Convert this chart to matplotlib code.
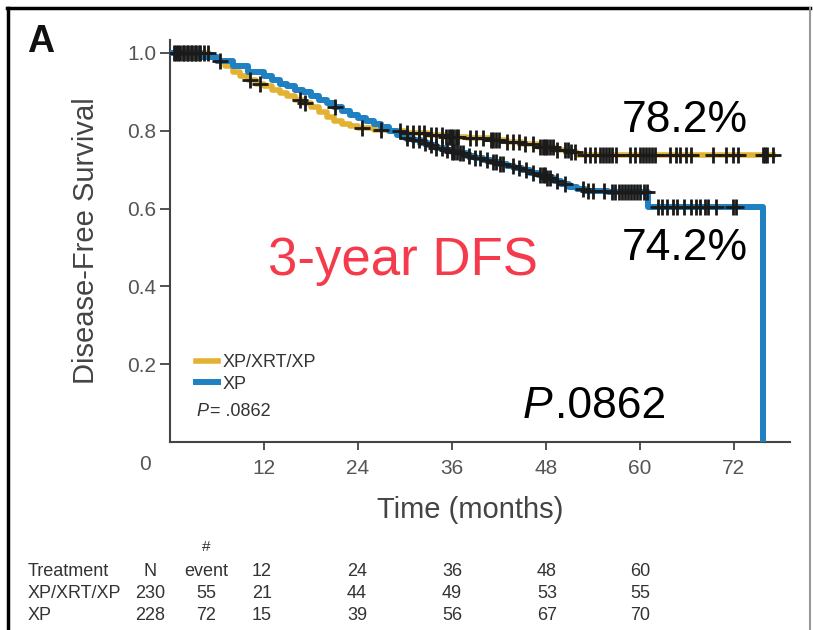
import matplotlib
matplotlib.use("Agg")
import matplotlib.pyplot as plt
from matplotlib.lines import Line2D

# Kaplan-Meier step values (months, survival)
arm_names = ["XP/XRT/XP", "XP"]
arm_colors = ["#E3B232", "#1F80C2"]

xrt_times = [0, 5, 6, 7, 8, 9, 10, 11, 12, 13, 14, 15, 16, 17, 18, 19, 20, 21, 22, 23, 24,
             26, 28, 30, 33, 35, 38, 41, 43, 45, 47, 49, 51, 52, 77]
xrt_surv = [1.0, 0.99, 0.98, 0.965, 0.95, 0.94, 0.93, 0.92, 0.915, 0.905, 0.897, 0.89, 0.88,
            0.87, 0.86, 0.848, 0.836, 0.826, 0.818, 0.812, 0.808, 0.803, 0.80, 0.795, 0.79,
            0.785, 0.78, 0.775, 0.77, 0.765, 0.758, 0.75, 0.744, 0.738, 0.738]

xp_times = [0, 4, 6, 8, 10, 12, 13, 14, 15, 16, 17, 18, 19, 20, 21, 22, 23, 24, 25, 26, 27,
            28, 29, 30, 31, 32, 33, 34, 35, 36, 37, 38, 39, 40, 41, 42, 43, 44, 45, 46, 47,
            48, 49, 50, 51, 52, 53, 56, 61, 75.8]
xp_surv = [1.0, 0.99, 0.98, 0.965, 0.95, 0.94, 0.93, 0.92, 0.915, 0.905, 0.90, 0.89, 0.88,
           0.87, 0.86, 0.85, 0.84, 0.832, 0.825, 0.818, 0.81, 0.80, 0.79, 0.782, 0.775, 0.768,
           0.762, 0.756, 0.75, 0.745, 0.742, 0.735, 0.73, 0.725, 0.72, 0.715, 0.71, 0.705,
           0.70, 0.692, 0.685, 0.678, 0.67, 0.663, 0.656, 0.65, 0.645, 0.642, 0.605, 0.0]

# censored observations (months)
xrt_censor = [0.8, 1.3, 1.8, 2.3, 2.8, 3.3, 3.8, 4.3, 4.8, 10.2, 11.5, 16.6, 17.2, 24.5, 27.0,
              29.4, 30.3, 31.0, 31.8, 32.5, 33.3, 34.0, 34.8, 35.3, 35.6, 35.9, 36.2, 36.5,
              36.8, 38.3, 39.1, 40.0, 41.0, 41.3, 41.6, 42.0, 43.0, 43.8, 44.6, 45.4, 46.4,
              47.3, 47.6, 47.9, 48.2, 48.5, 48.9, 49.4, 50.4, 50.8, 51.2, 51.7, 53.0, 53.6,
              54.3, 54.9, 55.3, 55.7, 56.1, 56.5, 57.0, 58.7, 59.4, 60.0, 60.4, 60.8, 61.2,
              61.6, 62.0, 63.9, 64.6, 65.2, 65.9, 66.6, 69.3, 71.0, 71.9, 72.5, 75.7, 76.0,
              76.3, 77.0]
xp_censor = [0.5, 1.0, 1.6, 2.2, 2.7, 3.2, 3.7, 6.4, 21.1, 30.3, 31.0, 31.8, 32.6, 33.3, 34.0,
             34.7, 35.4, 36.0, 36.3, 36.6, 37.0, 37.4, 38.2, 39.0, 39.6, 40.5, 41.3, 41.7,
             42.1, 42.5, 43.8, 44.6, 45.5, 46.4, 47.3, 47.6, 47.9, 48.2, 48.5, 49.4, 50.4,
             52.7, 53.4, 54.0, 55.5, 56.5, 56.9, 57.3, 57.7, 58.1, 58.5, 58.9, 59.3, 59.7,
             60.1, 60.5, 60.9, 62.3, 62.9, 63.5, 64.2, 64.8, 65.6, 66.5, 67.2, 67.7, 68.3,
             68.7, 69.8, 71.9, 72.3]

x_ticks = [12, 24, 36, 48, 60, 72]
y_ticks = [0.2, 0.4, 0.6, 0.8, 1.0]

# number-at-risk table
table_cols = ["12", "24", "36", "48", "60"]
table_rows = [("XP/XRT/XP", "230", "55", ["21", "44", "49", "53", "55"]),
              ("XP", "228", "72", ["15", "39", "56", "67", "70"])]

narrow = ["Liberation Sans Narrow", "Liberation Sans", "DejaVu Sans"]
arial = ["Liberation Sans", "DejaVu Sans"]
plt.rcParams["font.family"] = narrow

W, H = 813, 630
fig = plt.figure(figsize=(W / 100, H / 100), dpi=100)


def fx(px):
    return px / W


def fy(py):
    return 1 - py / H


ax = fig.add_axes([fx(170), fy(442), fx(790) - fx(170), fy(40) - fy(442)])
ax.set_xlim(0, 79.2)
ax.set_ylim(0, 1.033)

ax.step(xrt_times, xrt_surv, where="post", color=arm_colors[0], lw=4, label=arm_names[0], zorder=3)
ax.step(xp_times, xp_surv, where="post", color=arm_colors[1], lw=4.3, label=arm_names[1], zorder=4)


def surv_at(times, surv, t):
    s = surv[0]
    for tt, ss in zip(times, surv):
        if tt <= t:
            s = ss
    return s


ax.plot(xrt_censor, [surv_at(xrt_times, xrt_surv, t) for t in xrt_censor], ls="none",
        marker="+", ms=12, mew=2, color="#1a1a1a", zorder=5)
ax.plot(xp_censor, [surv_at(xp_times, xp_surv, t) for t in xp_censor], ls="none",
        marker="+", ms=12, mew=2, color="#1a1a1a", zorder=5)

for s in ["top", "right"]:
    ax.spines[s].set_visible(False)
for s in ["left", "bottom"]:
    ax.spines[s].set_color("#444444")
    ax.spines[s].set_linewidth(1.5)

ax.set_xticks(x_ticks)
ax.set_yticks(y_ticks)
ax.set_yticklabels(["%.1f" % v for v in y_ticks])
ax.tick_params(axis="y", length=7, width=1.3, color="#444444", pad=3, labelsize=15, labelcolor="#555555")
ax.tick_params(axis="x", length=6, width=1.3, color="#444444", pad=6, labelsize=15, labelcolor="#555555")
ax.text(-3.2, -0.057, "0", transform=ax.get_xaxis_transform(), ha="center", va="center",
        fontsize=15, color="#555555")

ax.set_ylabel("Disease-Free Survival", fontsize=21, color="#444444")
ax.yaxis.set_label_coords(-0.113, 0.5)
ax.set_xlabel("Time (months)", fontsize=21, color="#444444")
ax.xaxis.set_label_coords(0.484, -0.135)

leg = ax.legend(loc="upper left", bbox_to_anchor=(fx(196), fy(354)), bbox_transform=fig.transFigure,
                frameon=False, fontsize=13, handlelength=1.2, handletextpad=0.3,
                labelspacing=0.25, borderpad=0, borderaxespad=0)
for t in leg.get_texts():
    t.set_color("#333333")
fig.text(fx(196), fy(411), "P", style="italic", fontsize=13, color="#333333", va="center")
fig.text(fx(210), fy(411), "= .0862", fontsize=13, color="#333333", va="center")

# panel letter and annotations
fig.text(fx(27), fy(52), "A", fontsize=27, weight="bold", family=arial, color="#111111", va="baseline")
fig.text(fx(622), fy(132), "78.2%", fontsize=32, family=arial, color="black", va="baseline")
fig.text(fx(622), fy(260), "74.2%", fontsize=32, family=arial, color="black", va="baseline")
fig.text(fx(268), fy(275), "3-year DFS", fontsize=38, family=arial, color="#F53B4B", va="baseline")
fig.text(fx(523), fy(418), "P", fontsize=32, family=arial, style="italic", color="black", va="baseline")
fig.text(fx(555), fy(418), ".0862", fontsize=32, family=arial, color="black", va="baseline")

# at-risk table
tc = "#333333"
tfs = 13
col_x = [262, 357, 452, 547, 640]
fig.text(fx(206), fy(547), "#", fontsize=11, color=tc, ha="center", va="center")
fig.text(fx(28), fy(571), "Treatment", fontsize=tfs, color=tc, va="center")
fig.text(fx(150), fy(571), "N", fontsize=tfs, color=tc, ha="center", va="center")
fig.text(fx(206), fy(571), "event", fontsize=tfs, color=tc, ha="center", va="center")
for cx, lab in zip(col_x, table_cols):
    fig.text(fx(cx), fy(571), lab, fontsize=tfs, color=tc, ha="center", va="center")
for ry, (name, n, ev, vals) in zip([593, 615], table_rows):
    fig.text(fx(28), fy(ry), name, fontsize=tfs, color=tc, va="center")
    fig.text(fx(150), fy(ry), n, fontsize=tfs, color=tc, ha="center", va="center")
    fig.text(fx(206), fy(ry), ev, fontsize=tfs, color=tc, ha="center", va="center")
    for cx, v in zip(col_x, vals):
        fig.text(fx(cx), fy(ry), v, fontsize=tfs, color=tc, ha="center", va="center")

# outer frame
fig.add_artist(Line2D([fx(8), fx(8)], [fy(8), 0], color="black", lw=2.5))
fig.add_artist(Line2D([fx(7), fx(810)], [fy(8), fy(8)], color="black", lw=2.5))
fig.add_artist(Line2D([fx(810), fx(810)], [fy(8), 0], color="#999999", lw=1.5))

fig.savefig("out.png", dpi=100)
